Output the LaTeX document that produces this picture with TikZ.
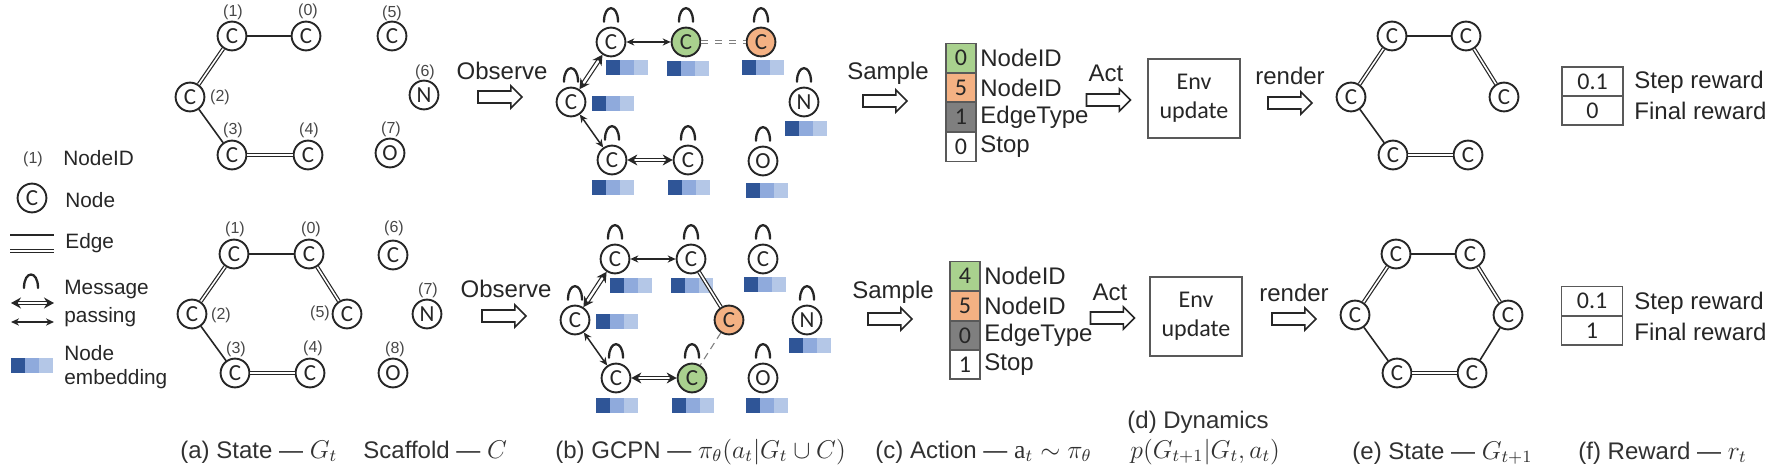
\documentclass[tikz,border=0pt]{standalone}
\usepackage{fontspec}
\setmainfont{Liberation Sans}
\newfontfamily\calfont{Carlito}
\newfontfamily\arialfont{Liberation Sans}
\newfontfamily\serfont{Liberation Serif}
\usetikzlibrary{arrows.meta,calc,shapes.arrows}
\definecolor{emA}{HTML}{2F5597}
\definecolor{emB}{HTML}{8FAADC}
\definecolor{emC}{HTML}{B4C7E7}
\definecolor{gcol}{HTML}{A9D18E}
\definecolor{ocol}{HTML}{F4B183}
\definecolor{dcol}{HTML}{7F7F7F}
\definecolor{ink}{HTML}{262626}
\definecolor{boxl}{HTML}{595959}
\tikzset{
  atom/.style={circle,draw=ink,line width=.95pt,fill=white,minimum size=14.4pt,inner sep=0pt,font=\calfont\fontsize{11.5}{12}\selectfont,text=ink},
  idlab/.style={inner sep=0pt,font=\arialfont\fontsize{8}{9}\selectfont,text=ink!85},
  txt/.style={anchor=west,inner sep=0pt,text=ink,font=\arialfont\fontsize{10.4}{12}\selectfont},
  tabtxt/.style={anchor=west,inner sep=0pt,text=ink,font=\arialfont\fontsize{12}{14}\selectfont},
  verbtxt/.style={inner sep=0pt,text=ink,font=\arialfont\fontsize{12}{14}\selectfont},
  captxt/.style={anchor=base west,inner sep=0pt,text=ink!95,font=\arialfont\fontsize{12}{14}\selectfont},
  sbond/.style={draw=ink,line width=.8pt},
  dbond/.style={draw=ink,line width=.6pt,double=white,double distance=.8pt},
  msgone/.style={draw=ink,line width=.75pt,{Stealth[length=4pt,width=3.6pt]}-{Stealth[length=4pt,width=3.6pt]}},
  msgtwo/.style={draw=ink,line width=.6pt,double=white,double distance=1.2pt,{Stealth[length=5pt,width=5.5pt]}-{Stealth[length=5pt,width=5.5pt]}},
  looppen/.style={draw=ink,line width=1.15pt,line cap=round},
  bigarrow/.style={single arrow,draw=ink,line width=.8pt,fill=white,minimum height=22pt,text width=0pt,text height=2.6pt,text depth=2.6pt,single arrow head extend=2.6pt,single arrow tip angle=90,inner sep=0pt},
  cell/.style={draw=boxl,line width=.75pt,minimum width=15pt,minimum height=14.7pt,inner sep=0pt,font=\calfont\fontsize{12}{14}\selectfont,text=ink},
  rcell/.style={draw=boxl,line width=.7pt,minimum width=30.5pt,minimum height=14.6pt,inner sep=0pt,font=\calfont\fontsize{12}{14}\selectfont,text=ink},
  envbox/.style={draw=boxl,line width=.75pt,minimum width=46pt,minimum height=39.5pt,inner sep=0pt,align=center,font=\calfont\fontsize{12}{14.5}\selectfont,text=ink}
}
\newcommand{\msgloop}[1]{\draw[looppen] ([shift={(-7,-5)}]#1.north) .. controls ([shift={(-7,-23)}]#1.north) and ([shift={(7,-23)}]#1.north) .. ([shift={(7,-5)}]#1.north);}
\newcommand{\embed}[2]{\fill[emA] (#1,#2) rectangle ++(14,15);\fill[emB] (#1+14,#2) rectangle ++(14,15);\fill[emC] (#1+28,#2) rectangle ++(14,15);}
\newcommand{\mm}[1]{\scalebox{1.07}{$#1$}}
\begin{document}
\begin{tikzpicture}[x=.5pt,y=-.5pt]
\useasboundingbox (0,0) rectangle (1780,470);
% ---------- legend
\node[idlab] (lgid) at (33,159) {(1)};
\node[txt] (lgidt) at (63,158) {NodeID};
\node[atom] (lgn) at (32,198) {C};
\node[txt] (lgnt) at (65,200) {Node};
\coordinate (e1a) at (10,235); \coordinate (e1b) at (54,235);
\coordinate (e2a) at (10,251); \coordinate (e2b) at (54,251);
\draw[sbond] (e1a) -- (e1b);
\draw[dbond] (e2a) -- (e2b);
\node[txt] (lgee) at (65,243) {Edge};
\coordinate (lpa) at (24,288); \coordinate (lpb) at (38,288);
\draw[looppen] (lpa) .. controls (24,270) and (38,270) .. (lpb);
\node[txt] (lgm) at (64,290) {Message};
\node[txt] (lgp) at (64,317) {passing};
\coordinate (m2a) at (11,303); \coordinate (m2b) at (54,303);
\coordinate (m1a) at (11,322); \coordinate (m1b) at (54,322);
\draw[msgtwo] (m2a) -- (m2b);
\draw[msgone] (m1a) -- (m1b);
\embed{11}{358}
\node[txt] (lgnn) at (64,353) {Node};
\node[txt] (lgem) at (64,379) {embedding};
% ---------- (a) top
\node[atom] (a1) at (232,36) {C};
\node[atom] (a0) at (306,36) {C};
\node[atom] (a5) at (392,36) {C};
\node[atom] (a6) at (424,95) {N};
\node[atom] (a2) at (190,97) {C};
\node[atom] (a3) at (232,155) {C};
\node[atom] (a4) at (308,155) {C};
\node[atom] (a7) at (390,153) {O};
\draw[dbond] (a2) -- (a1);
\draw[sbond] (a1) -- (a0);
\draw[sbond] (a2) -- (a3);
\draw[dbond] (a3) -- (a4);
\node[idlab] (la1) at (233,12) {(1)};
\node[idlab] (la0) at (308,11) {(0)};
\node[idlab] (la5) at (392,13) {(5)};
\node[idlab] (la6) at (425,72) {(6)};
\node[idlab] (la2) at (220,97) {(2)};
\node[idlab] (la3) at (233,130) {(3)};
\node[idlab] (la4) at (309,130) {(4)};
\node[idlab] (la7) at (391,129) {(7)};
% ---------- (a) bottom
\node[atom] (c1) at (234,254) {C};
\node[atom] (c0) at (309,254) {C};
\node[atom] (c6) at (393,255) {C};
\node[atom] (c7) at (427,314) {N};
\node[atom] (c2) at (192,314) {C};
\node[atom] (c5) at (347,314) {C};
\node[atom] (c3) at (235,373) {C};
\node[atom] (c4) at (310,373) {C};
\node[atom] (c8) at (393,373) {O};
\draw[dbond] (c2) -- (c1);
\draw[sbond] (c1) -- (c0);
\draw[dbond] (c0) -- (c5);
\draw[sbond] (c2) -- (c3);
\draw[dbond] (c3) -- (c4);
\node[idlab] (lc1) at (235,229) {(1)};
\node[idlab] (lc0) at (311,229) {(0)};
\node[idlab] (lc6) at (394,228) {(6)};
\node[idlab] (lc7) at (428,290) {(7)};
\node[idlab] (lc2) at (221,315) {(2)};
\node[idlab] (lc5) at (320,313) {(5)};
\node[idlab] (lc3) at (236,349) {(3)};
\node[idlab] (lc4) at (313,348) {(4)};
\node[idlab] (lc8) at (395,349) {(8)};
% ---------- observe
\node[verbtxt] (ob1) at (502,71) {Observe};
\node[bigarrow] (oa1) at (497,97) {};
\node[verbtxt] (ob2) at (506,289) {Observe};
\node[bigarrow] (oa2) at (501,316) {};
% ---------- (b) top
\embed{606}{60}\embed{667}{61}\embed{742}{60}\embed{592}{96}\embed{785}{121}\embed{592}{180}\embed{668}{180}\embed{746}{183}
\node[atom] (b1) at (611,42) {C};
\node[atom,fill=gcol] (bg) at (686,42) {C};
\node[atom,fill=ocol] (bo) at (761,42) {C};
\node[atom] (b2) at (571,102) {C};
\node[atom] (b3) at (612,160) {C};
\node[atom] (b4) at (688,160) {C};
\node[atom] (bn) at (804,102) {N};
\node[atom] (bO) at (763,161) {O};
\foreach \n in {b1,bg,bo,b2,b3,b4,bn,bO}{\msgloop{\n}}
\draw[msgone] (b1) -- (bg);
\draw[msgone] (b2) -- (b3);
\draw[msgtwo] (b2) -- (b1);
\draw[msgtwo] (b3) -- (b4);
\draw[draw=dcol,line width=.5pt,double=white,double distance=1.2pt,dash pattern=on 3.5pt off 3.5pt] (bg) -- (bo);
% ---------- (b) bottom
\embed{610}{278}\embed{671}{278}\embed{744}{277}\embed{596}{314}\embed{789}{338}\embed{596}{398}\embed{672}{398}\embed{746}{398}
\node[atom] (d1) at (615,259) {C};
\node[atom] (d0) at (691,259) {C};
\node[atom] (d6) at (763,259) {C};
\node[atom] (d2) at (575,320) {C};
\node[atom,fill=ocol] (do) at (729,320) {C};
\node[atom] (dn) at (807,320) {N};
\node[atom] (d3) at (616,378) {C};
\node[atom,fill=gcol] (dg) at (692,378) {C};
\node[atom] (dO) at (763,378) {O};
\foreach \n in {d1,d0,d6,d2,dn,d3,dg,dO}{\msgloop{\n}}
\draw[msgone] (d1) -- (d0);
\draw[msgone] (d2) -- (d3);
\draw[msgtwo] (d2) -- (d1);
\draw[msgtwo] (d3) -- (dg);
\draw[dbond] (d0) -- (do);
\draw[draw=dcol,line width=.55pt,dash pattern=on 3.5pt off 2.5pt] (do) -- (dg);
% ---------- sample
\node[verbtxt] (sa1) at (888,73) {Sample};
\node[bigarrow] (sr1) at (882,101) {};
\node[verbtxt] (sa2) at (893,292) {Sample};
\node[bigarrow] (sr2) at (887,319) {};
% ---------- (c) tables
\node[cell,fill=gcol] (t1a) at (961,58) {0};
\node[cell,fill=ocol] (t1b) at (961,87.5) {5};
\node[cell,fill=dcol] (t1c) at (961,117) {1};
\node[cell,fill=white] (t1d) at (961,147) {0};
\node[tabtxt] (t1at) at (980,58) {NodeID};
\node[tabtxt] (t1bt) at (980,88) {NodeID};
\node[tabtxt] (t1ct) at (980,117) {EdgeType};
\node[tabtxt] (t1dt) at (980,147) {Stop};
\node[cell,fill=gcol] (t2a) at (965,276) {4};
\node[cell,fill=ocol] (t2b) at (965,306) {5};
\node[cell,fill=dcol] (t2c) at (965,335.5) {0};
\node[cell,fill=white] (t2d) at (965,364.5) {1};
\node[tabtxt] (t2at) at (984,276) {NodeID};
\node[tabtxt] (t2bt) at (984,306) {NodeID};
\node[tabtxt] (t2ct) at (984,335) {EdgeType};
\node[tabtxt] (t2dt) at (984,365) {Stop};
% ---------- act / env / render
\node[verbtxt] (ac1) at (1106,73) {Act};
\node[bigarrow] (aa1) at (1105.5,100) {};
\node[verbtxt] (ac2) at (1110,292) {Act};
\node[bigarrow] (aa2) at (1109.5,318) {};
\node[envbox] (env1) at (1194,98.5) {Env\\update};
\node[envbox] (env2) at (1196,316.5) {Env\\update};
\node[verbtxt] (re1) at (1290,76) {render};
\node[bigarrow] (rr1) at (1287,103) {};
\node[verbtxt] (re2) at (1294,293) {render};
\node[bigarrow] (rr2) at (1291,319) {};
% ---------- (e) top
\node[atom] (e1) at (1392,36) {C};
\node[atom] (e0) at (1466,36) {C};
\node[atom] (e2) at (1351,97) {C};
\node[atom] (e5) at (1504,97) {C};
\node[atom] (e3) at (1393,155) {C};
\node[atom] (e4) at (1468,155) {C};
\draw[dbond] (e2) -- (e1);
\draw[sbond] (e1) -- (e0);
\draw[dbond] (e0) -- (e5);
\draw[sbond] (e2) -- (e3);
\draw[dbond] (e3) -- (e4);
% ---------- (e) bottom
\node[atom] (f1) at (1396,254) {C};
\node[atom] (f0) at (1470,254) {C};
\node[atom] (f2) at (1355,315) {C};
\node[atom] (f5) at (1508,315) {C};
\node[atom] (f3) at (1397,373) {C};
\node[atom] (f4) at (1472,373) {C};
\draw[dbond] (f2) -- (f1);
\draw[sbond] (f1) -- (f0);
\draw[dbond] (f0) -- (f5);
\draw[sbond] (f5) -- (f4);
\draw[sbond] (f2) -- (f3);
\draw[dbond] (f3) -- (f4);
% ---------- (f) rewards
\node[rcell] (r1a) at (1592.5,81.5) {0.1};
\node[rcell] (r1b) at (1592.5,110.5) {0};
\node[tabtxt] (r1at) at (1634,82) {Step reward};
\node[tabtxt] (r1bt) at (1634,111) {Final reward};
\node[rcell] (r2a) at (1592,301) {0.1};
\node[rcell] (r2b) at (1592,330.5) {1};
\node[tabtxt] (r2at) at (1634,303) {Step reward};
\node[tabtxt] (r2bt) at (1634,332) {Final reward};
% ---------- captions
\node[captxt] (ca) at (180,458) {(a) State — \mm{G_t}};
\node[captxt] (cs) at (363,458) {Scaffold — \mm{C}};
\node[captxt] (cb) at (555,458) {(b) GCPN — \mm{\pi_\theta(a_t|G_t\cup C)}};
\node[captxt] (cc) at (875,458) {(c) Action — \mm{\mbox{\serfont a}_t\sim\pi_\theta}};
\node[captxt] (cd) at (1127,428) {(d) Dynamics};
\node[captxt] (cd2) at (1130,458) {\mm{p(G_{t+1}|G_t,a_t)}};
\node[captxt] (ce) at (1352,459) {(e) State — \mm{G_{t+1}}};
\node[captxt] (cf) at (1578,459) {(f) Reward — \mm{r_t}};
\end{tikzpicture}
\end{document}
